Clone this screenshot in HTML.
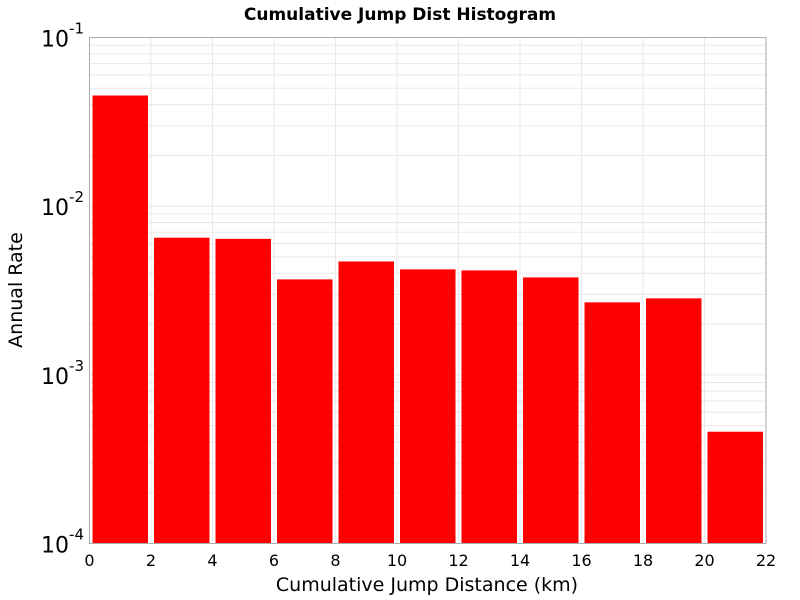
<!DOCTYPE html>
<html><head><meta charset="utf-8"><style>
body{margin:0;background:#fff;}
svg{display:block;font-family:"DejaVu Sans","Liberation Sans",sans-serif;}
</style></head><body>
<svg id="chart" width="800" height="600">
<text x="400" y="20" text-anchor="middle" font-size="17" font-weight="bold">Cumulative Jump Dist Histogram</text>
<g id="grid"></g><g id="bars"></g><g id="axes"></g>
<text x="427" y="591" text-anchor="middle" font-size="19">Cumulative Jump Distance (km)</text>
<text transform="translate(22,290) rotate(-90)" text-anchor="middle" font-size="19">Annual Rate</text>
</svg>
<script>
const binStarts=[0,2,4,6,8,10,12,14,16,18,20];
const rates=[0.0453,0.0065,0.0064,0.00368,0.0047,0.00422,0.00416,0.00378,0.00269,0.00284,0.00046];
const xTicks=[0,2,4,6,8,10,12,14,16,18,20,22];
const yDecades=[-4,-3,-2,-1];
const L=89.5,R=766,T=37.5,B=543.5,xMin=0,xMax=22,yMin=-4,yMax=-1;
const NS="http://www.w3.org/2000/svg";
function X(v){return L+(v-xMin)/(xMax-xMin)*(R-L);}
function Y(v){return B-(Math.log10(v)-yMin)/(yMax-yMin)*(B-T);}
function mk(t,a,p){const e=document.createElementNS(NS,t);for(const k in a)e.setAttribute(k,a[k]);p.appendChild(e);return e;}
const grid=document.getElementById('grid'),bars=document.getElementById('bars'),axes=document.getElementById('axes');
for(const d of yDecades){if(d>=yMax)continue;for(let m=1;m<=9;m++){const y=Y(m*Math.pow(10,d));
const l=mk('line',{x1:L,x2:R,y1:y,y2:y,stroke:'#e8e8e8','stroke-width':1},grid);

}}
for(const t of xTicks){const x=X(t);
const l=mk('line',{x1:x,x2:x,y1:T,y2:B,stroke:'#e8e8e8','stroke-width':1},grid);


const tx=mk('text',{x:x,y:566,'text-anchor':'middle','font-size':16},axes);tx.textContent=t;

}
binStarts.forEach((s,i)=>{const x0=X(s)+3,x1=X(s+2)-3,y=Y(rates[i]);
const r=mk('rect',{x:x0,y:y,width:x1-x0,height:B-y,fill:'#ff0000'},bars);

});
mk('rect',{x:L,y:T,width:R-L,height:B-T,fill:'none',stroke:'#aaa','stroke-width':1},axes);
for(const d of yDecades){const y=Y(Math.pow(10,d));
const tx=mk('text',{x:84,y:y+9,'text-anchor':'end','font-size':22},axes);
tx.innerHTML='10<tspan font-size="15" dy="-13">'+d+'</tspan>';

}
</script>
</body></html>
